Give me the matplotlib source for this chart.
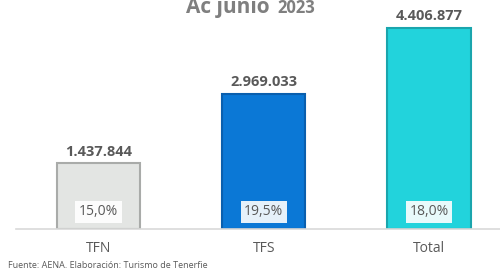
import numpy as np
import matplotlib.pyplot as plt

categorias = ['TFN', 'TFS', 'Total']
pasajeros = [1437844, 2969033, 4406877]
variacion = ['15,0%', '19,5%', '18,0%']
etiquetas = ['1.437.844', '2.969.033', '4.406.877']

colores = ['#e3e5e3', '#0b78d6', '#22d3dc']
bordes = ['#a9aba9', '#0a5fae', '#1aa5ad']
gris = '#595959'

fig = plt.figure(figsize=(5, 2.72), dpi=100)
ax = fig.add_axes([16/500, 1 - 229/272, 484/500, 229/272])

x = np.arange(len(categorias))
ax.bar(x, pasajeros, width=0.505, color=colores, edgecolor=bordes, linewidth=1.5, zorder=2)

for i in range(len(x)):
    ax.text(x[i], pasajeros[i] + 0.1e6, etiquetas[i], ha='center', va='bottom',
            fontsize=10.5, fontweight='bold', color=gris, family='Open Sans')
    ax.text(x[i], 0.38e6, variacion[i], ha='center', va='center', fontsize=10,
            color=gris, family='Open Sans',
            bbox=dict(boxstyle='square,pad=0.25', fc='white', ec='none', alpha=0.9), zorder=3)

ax.set_xlim(-0.5, 2.43)
ax.set_ylim(0, 5.02e6)
ax.set_xticks(x)
ax.set_xticklabels(categorias, fontsize=10, color=gris, family='Open Sans')
ax.tick_params(axis='x', length=0, pad=9)
ax.set_yticks([])
for s in ['top', 'left', 'right']:
    ax.spines[s].set_visible(False)
ax.spines['bottom'].set_color('#d9d9d9')
ax.spines['bottom'].set_linewidth(1.2)

fig.text(372/1000, 1 - 13/272, 'Ac junio', ha='left', va='baseline',
         fontsize=15, fontweight='bold', color='#7f7f7f', family='Open Sans')
fig.text(554/1000, 1 - 13/272, '2023', ha='left', va='baseline',
         fontsize=12, fontweight='bold', color='#7f7f7f', family='Open Sans')

fig.text(8/500, 1 - 266/272, 'Fuente: AENA. Elaboración: Turismo de Tenerfie', ha='left', va='center',
         fontsize=6.5, color=gris, family='Open Sans')

fig.savefig('out.png', dpi=100)
